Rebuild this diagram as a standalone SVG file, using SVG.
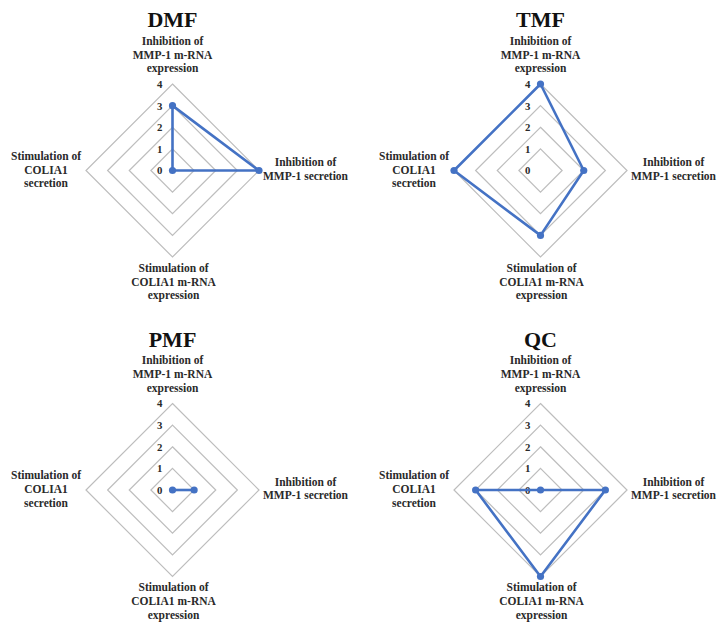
<svg xmlns="http://www.w3.org/2000/svg" width="727" height="630" viewBox="0 0 727 630">
<style>
.title{font-family:"Liberation Serif",serif;font-weight:bold;font-size:22px;fill:#111;text-anchor:middle}
.lab{font-family:"Liberation Serif",serif;font-weight:bold;font-size:11.5px;fill:#2a2a2a;text-anchor:middle}
.tick{font-family:"Liberation Serif",serif;font-weight:bold;font-size:10.8px;fill:#2a2a2a;text-anchor:end}
.grid{fill:none;stroke:#BDBDBD;stroke-width:1.2}
.data{fill:none;stroke:#4472C4;stroke-width:2.6;stroke-linejoin:round}
.dot{fill:#4472C4}
</style>
<defs>
<g id="grid">
<path class="grid" d="M0,-21.625L21.625,0L0,21.625L-21.625,0Z"/>
<path class="grid" d="M0,-43.25L43.25,0L0,43.25L-43.25,0Z"/>
<path class="grid" d="M0,-64.875L64.875,0L0,64.875L-64.875,0Z"/>
<path class="grid" d="M0,-86.5L86.5,0L0,86.5L-86.5,0Z"/>
</g>
</defs>
<rect width="727" height="630" fill="#fff"/>

<g id="chart-DMF" transform="translate(172.5,170.5)">
<use href="#grid"/>
<text class="title" x="0" y="-143.5">DMF</text>
<text class="lab"><tspan x="0" y="-126">Inhibition of</tspan><tspan x="0" y="-112">MMP-1 m-RNA</tspan><tspan x="0" y="-98.5">expression</tspan></text>
<text class="lab"><tspan x="133" y="-4.5">Inhibition of</tspan><tspan x="133" y="9">MMP-1 secretion</tspan></text>
<text class="lab"><tspan x="1" y="101">Stimulation of</tspan><tspan x="1" y="115">COLIA1 m-RNA</tspan><tspan x="1" y="128.5">expression</tspan></text>
<text class="lab"><tspan x="-126.5" y="-11">Stimulation of</tspan><tspan x="-126.5" y="3">COLIA1</tspan><tspan x="-126.5" y="16.5">secretion</tspan></text>
<text class="tick" x="-10" y="3.8">0</text><text class="tick" x="-10" y="-17.8">1</text><text class="tick" x="-10" y="-39.4">2</text><text class="tick" x="-10" y="-61">3</text><text class="tick" x="-10" y="-82.7">4</text>
<g id="data-DMF">
<path class="data" d="M0,-64.875L86.5,0L0,0Z"/>
<circle class="dot" cx="0" cy="-64.875" r="3.6"/><circle class="dot" cx="86.5" cy="0" r="3.6"/><circle class="dot" cx="0" cy="0" r="3.6"/>
</g>
</g>

<g id="chart-TMF" transform="translate(540.5,170.5)">
<use href="#grid"/>
<text class="title" x="0" y="-143.5">TMF</text>
<text class="lab"><tspan x="0" y="-126">Inhibition of</tspan><tspan x="0" y="-112">MMP-1 m-RNA</tspan><tspan x="0" y="-98.5">expression</tspan></text>
<text class="lab"><tspan x="133" y="-4.5">Inhibition of</tspan><tspan x="133" y="9">MMP-1 secretion</tspan></text>
<text class="lab"><tspan x="1" y="101">Stimulation of</tspan><tspan x="1" y="115">COLIA1 m-RNA</tspan><tspan x="1" y="128.5">expression</tspan></text>
<text class="lab"><tspan x="-126.5" y="-11">Stimulation of</tspan><tspan x="-126.5" y="3">COLIA1</tspan><tspan x="-126.5" y="16.5">secretion</tspan></text>
<text class="tick" x="-10" y="3.8">0</text><text class="tick" x="-10" y="-17.8">1</text><text class="tick" x="-10" y="-39.4">2</text><text class="tick" x="-10" y="-61">3</text><text class="tick" x="-10" y="-82.7">4</text>
<g id="data-TMF">
<path class="data" d="M0,-86.5L43.25,0L0,64.875L-86.5,0Z"/>
<circle class="dot" cx="0" cy="-86.5" r="3.6"/><circle class="dot" cx="43.25" cy="0" r="3.6"/><circle class="dot" cx="0" cy="64.875" r="3.6"/><circle class="dot" cx="-86.5" cy="0" r="3.6"/>
</g>
</g>

<g id="chart-PMF" transform="translate(172.5,490)">
<use href="#grid"/>
<text class="title" x="0" y="-143.5">PMF</text>
<text class="lab"><tspan x="0" y="-126">Inhibition of</tspan><tspan x="0" y="-112">MMP-1 m-RNA</tspan><tspan x="0" y="-98.5">expression</tspan></text>
<text class="lab"><tspan x="133" y="-4.5">Inhibition of</tspan><tspan x="133" y="9">MMP-1 secretion</tspan></text>
<text class="lab"><tspan x="1" y="101">Stimulation of</tspan><tspan x="1" y="115">COLIA1 m-RNA</tspan><tspan x="1" y="128.5">expression</tspan></text>
<text class="lab"><tspan x="-126.5" y="-11">Stimulation of</tspan><tspan x="-126.5" y="3">COLIA1</tspan><tspan x="-126.5" y="16.5">secretion</tspan></text>
<text class="tick" x="-10" y="3.8">0</text><text class="tick" x="-10" y="-17.8">1</text><text class="tick" x="-10" y="-39.4">2</text><text class="tick" x="-10" y="-61">3</text><text class="tick" x="-10" y="-82.7">4</text>
<g id="data-PMF">
<path class="data" d="M0,0L21.625,0"/>
<circle class="dot" cx="0" cy="0" r="3.6"/><circle class="dot" cx="21.625" cy="0" r="3.6"/>
</g>
</g>

<g id="chart-QC" transform="translate(540.5,490)">
<use href="#grid"/>
<text class="title" x="0" y="-143.5">QC</text>
<text class="lab"><tspan x="0" y="-126">Inhibition of</tspan><tspan x="0" y="-112">MMP-1 m-RNA</tspan><tspan x="0" y="-98.5">expression</tspan></text>
<text class="lab"><tspan x="133" y="-4.5">Inhibition of</tspan><tspan x="133" y="9">MMP-1 secretion</tspan></text>
<text class="lab"><tspan x="1" y="101">Stimulation of</tspan><tspan x="1" y="115">COLIA1 m-RNA</tspan><tspan x="1" y="128.5">expression</tspan></text>
<text class="lab"><tspan x="-126.5" y="-11">Stimulation of</tspan><tspan x="-126.5" y="3">COLIA1</tspan><tspan x="-126.5" y="16.5">secretion</tspan></text>
<text class="tick" x="-10" y="3.8">0</text><text class="tick" x="-10" y="-17.8">1</text><text class="tick" x="-10" y="-39.4">2</text><text class="tick" x="-10" y="-61">3</text><text class="tick" x="-10" y="-82.7">4</text>
<g id="data-QC">
<path class="data" d="M0,0L64.875,0L0,86.5L-64.875,0Z"/>
<circle class="dot" cx="0" cy="0" r="3.6"/><circle class="dot" cx="64.875" cy="0" r="3.6"/><circle class="dot" cx="0" cy="86.5" r="3.6"/><circle class="dot" cx="-64.875" cy="0" r="3.6"/>
</g>
</g>
</svg>
